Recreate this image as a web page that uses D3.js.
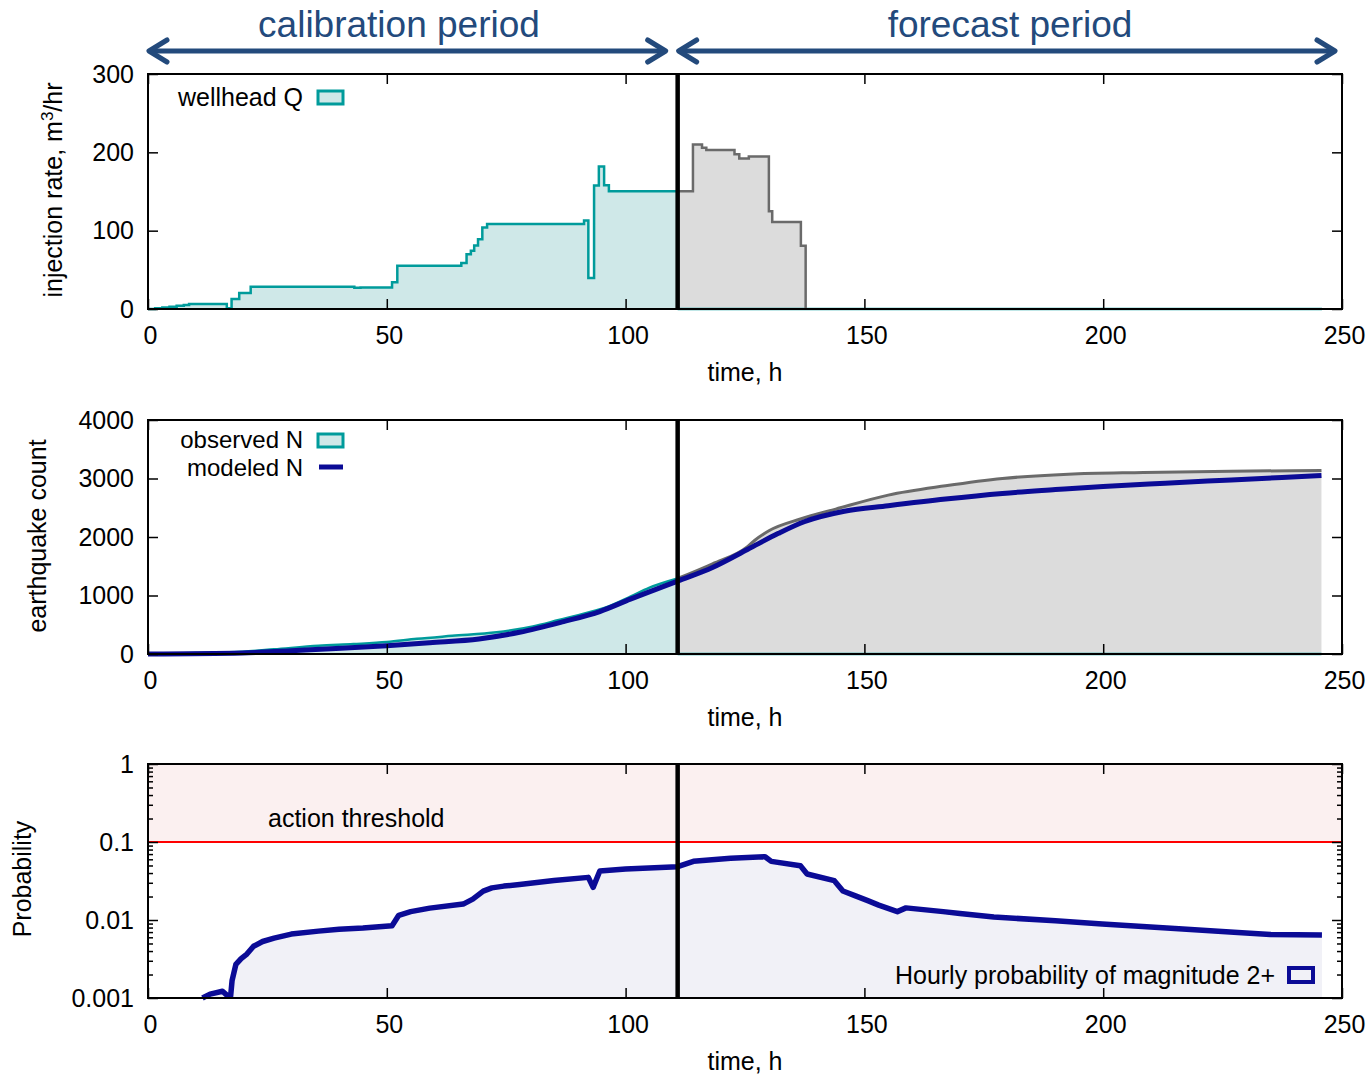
<!DOCTYPE html>
<html>
<head>
<meta charset="utf-8">
<script src="https://cdnjs.cloudflare.com/ajax/libs/d3/7.8.5/d3.min.js"></script>
<style>
  body { margin: 0; background: #fff; }
  text { font-family: "Liberation Sans", Arial, Helvetica, sans-serif; }
</style>
</head>
<body>
<div id="chart"></div>
<script>
// ---- data ----
var splitTime = 110.9;      // end of calibration period, h
var threshold = 0.1;        // action threshold

var xTicks = [0, 50, 100, 150, 200, 250];
var qTicks = [0, 100, 200, 300];
var nTicks = [0, 1000, 2000, 3000, 4000];
var pTicks = [0.001, 0.01, 0.1, 1];

// wellhead injection rate, calibration (step after)
var qTime = [0, 1.5, 3, 4.5, 6, 7.5, 8.6, 16.5, 17.5, 19.1, 21.5, 43.2, 44.5, 51.1, 52.2, 65.6, 66.7, 67.6, 68.3, 69.1, 70, 71, 91.3, 92.2, 93.4, 94.4, 95.5, 96.5, 110.9];
var qRate = [0, 1, 2, 3, 4, 5, 6.4, 1, 12.8, 20.4, 28.5, 27, 27.5, 34, 55.3, 58.7, 70, 74.5, 81, 89, 104, 108.5, 113, 39.6, 157.7, 182, 158, 150.4, 150.4];
// injection rate, forecast period
var qFcTime = [110.9, 114.1, 116, 116.9, 122.8, 123.8, 125.8, 130, 130.7, 136.7, 137.7, 245.8];
var qFcRate = [150.4, 210, 206, 203, 197.4, 192, 194.6, 124.8, 111, 80.8, 0, 0];

// observed earthquake count
var nObsTime = [0, 10, 19.8, 26.4, 35.7, 43, 50, 56.3, 63.7, 73, 80.6, 86, 91.8, 96, 101, 104.9, 110.9];
var nObsCount = [0, 18, 40, 80, 140, 170, 205, 260, 310, 370, 470, 580, 700, 800, 980, 1130, 1290];
var nFcTime = [110.9, 118.2, 125.6, 127, 130.1, 136.6, 144, 155, 167, 178.9, 192.7, 208.4, 226.8, 245.7];
var nFcCount = [1290, 1540, 1840, 1940, 2110, 2307, 2477, 2716, 2875, 3000, 3074, 3102, 3125, 3136];
// modeled earthquake count
var nModTime = [0, 19.8, 30, 40.4, 50, 59, 69.3, 77.8, 87, 94.6, 101, 111, 118.2, 125.6, 132, 137.4, 145.8, 155, 167, 178.9, 190, 200, 213, 226.8, 245.7];
var nModCount = [0, 17, 57, 97, 143, 194, 257, 371, 554, 726, 937, 1250, 1480, 1790, 2063, 2261, 2440, 2535, 2650, 2745, 2810, 2865, 2920, 2975, 3050];

// hourly probability of M2+
var pTime = [11.4, 13, 15.6, 16.8, 17.3, 17.6, 18.4, 19.5, 20.7, 22.1, 24, 26.4, 30, 35.7, 40, 45, 51.1, 52.5, 55, 59, 66, 68, 70.2, 72, 74.5, 77.8, 85, 92.2, 93.2, 94.6, 100, 110.9, 114.2, 122, 129.2, 130.5, 136.6, 138, 143.7, 145.5, 148, 150.7, 153, 156.9, 158.7, 166.5, 170, 177.1, 190, 199.8, 215, 228.2, 235, 245.8];
var pValue = [0.00100, 0.00112, 0.00122, 0.00105, 0.00105, 0.00167, 0.0027, 0.0032, 0.00366, 0.0046, 0.0053, 0.00585, 0.0066, 0.0072, 0.0076, 0.0079, 0.00845, 0.0115, 0.0128, 0.0142, 0.016, 0.0185, 0.0235, 0.0258, 0.0272, 0.0285, 0.032, 0.0352, 0.0262, 0.0425, 0.045, 0.0482, 0.0565, 0.062, 0.0648, 0.0564, 0.0497, 0.0389, 0.0319, 0.0235, 0.0205, 0.0177, 0.0155, 0.0128, 0.0143, 0.0128, 0.0121, 0.0109, 0.0098, 0.0089, 0.0078, 0.0069, 0.0065, 0.0064];

// ---- colours ----
var teal = '#009b9b', tealFill = '#cfe8e8';
var grey = '#6a6a6a', greyFill = '#dcdcdc';
var blue = '#0b0b96', lavender = '#f1f1f7';
var navy = '#234a7c';
var font = 25;

function zip(t, v) { return t.map((d, i) => [d, v[i]]); }

var svg = d3.select('#chart').append('svg')
    .attr('width', 1370)
    .attr('height', 1076);

var x = d3.scaleLinear().domain([0, 250]).range([148, 1342]);
var yQ = d3.scaleLinear().domain([0, 300]).range([309, 74]);
var yN = d3.scaleLinear().domain([0, 4000]).range([654, 420]);
var yP = d3.scaleLog().domain([0.001, 1]).range([998, 764]);

// axes + frame for one panel
function drawFrame(y, ticks, fmt, minor) {
    var top = y.range()[1], bottom = y.range()[0];
    var g = svg.append('g');
    var axes = [
        g.append('g').attr('transform', `translate(2,${bottom})`)
            .call(d3.axisBottom(x).tickValues(xTicks).tickSize(-10).tickPadding(17).tickSizeOuter(0)),
        g.append('g').attr('transform', `translate(0,${top})`)
            .call(d3.axisTop(x).tickValues(xTicks).tickSize(-10).tickFormat('').tickSizeOuter(0)),
        g.append('g').attr('transform', `translate(${x(0)},0)`)
            .call(d3.axisLeft(y).tickValues(ticks).tickFormat(fmt).tickSize(-10).tickPadding(14).tickSizeOuter(0)),
        g.append('g').attr('transform', `translate(${x(250)},0)`)
            .call(d3.axisRight(y).tickValues(ticks).tickFormat('').tickSize(-10).tickSizeOuter(0))
    ];
    if (minor) {
        axes.push(g.append('g').attr('transform', `translate(${x(0)},0)`)
            .call(d3.axisLeft(y).tickValues(minor).tickFormat('').tickSize(-5).tickSizeOuter(0)));
        axes.push(g.append('g').attr('transform', `translate(${x(250)},0)`)
            .call(d3.axisRight(y).tickValues(minor).tickFormat('').tickSize(-5).tickSizeOuter(0)));
    }
    axes.forEach(a => {
        a.select('.domain').remove();
        a.attr('font-size', font).attr('font-family', null);
        a.selectAll('line').attr('stroke', '#000').attr('stroke-width', 1.5);
        a.selectAll('text').attr('fill', '#000');
    });
    // bottom tick marks were shifted with the labels; put them back
    axes[0].selectAll('line').attr('x1', -2).attr('x2', -2);
    g.append('rect')
        .attr('x', x(0)).attr('y', top)
        .attr('width', x(250) - x(0)).attr('height', bottom - top)
        .attr('fill', 'none').attr('stroke', '#000').attr('stroke-width', 2);
    g.append('text')
        .attr('x', x(125)).attr('y', bottom + 72)
        .attr('text-anchor', 'middle').attr('font-size', font)
        .text('time, h');
}

function splitLine(y) {
    svg.append('line')
        .attr('x1', x(splitTime)).attr('x2', x(splitTime))
        .attr('y1', y.range()[1]).attr('y2', y.range()[0])
        .attr('stroke', '#000').attr('stroke-width', 4.5);
}

function yTitle(xPos, yPos, txt, sup, rest) {
    var t = svg.append('text')
        .attr('transform', `translate(${xPos},${yPos}) rotate(-90)`)
        .attr('text-anchor', 'middle').attr('font-size', font)
        .text(txt);
    if (sup) {
        t.append('tspan').attr('dy', -9).attr('font-size', 17).text(sup);
        t.append('tspan').attr('dy', 9).text(rest);
    }
}

// ---- header arrows ----
function arrow(x1, x2, yy) {
    var g = svg.append('g').attr('stroke', navy).attr('fill', 'none')
        .attr('stroke-width', 5).attr('stroke-linecap', 'round').attr('stroke-linejoin', 'round');
    g.append('line').attr('x1', x1 + 2).attr('x2', x2 - 2).attr('y1', yy).attr('y2', yy);
    g.append('path').attr('d', `M${x1 + 18},${yy - 11}L${x1},${yy}L${x1 + 18},${yy + 11}`);
    g.append('path').attr('d', `M${x2 - 18},${yy - 11}L${x2},${yy}L${x2 - 18},${yy + 11}`);
}
arrow(x(0) + 1, x(splitTime) - 12, 51);
arrow(x(splitTime) + 1, x(250) - 7, 51);
svg.append('text').attr('x', 399).attr('y', 37).attr('text-anchor', 'middle')
    .attr('font-size', 37).attr('fill', navy).text('calibration period');
svg.append('text').attr('x', 1010).attr('y', 37).attr('text-anchor', 'middle')
    .attr('font-size', 37).attr('fill', navy).text('forecast period');

// ---- panel 1: injection rate ----
var qData = zip(qTime, qRate);
var qFc = zip(qFcTime, qFcRate);
var qArea = d3.area().x(d => x(d[0])).y0(yQ(0)).y1(d => yQ(d[1])).curve(d3.curveStepAfter);
var qLine = d3.line().x(d => x(d[0])).y(d => yQ(d[1])).curve(d3.curveStepAfter);

svg.append('path').attr('d', qArea(qData)).attr('fill', tealFill);
svg.append('path').attr('d', qArea(qFc)).attr('fill', greyFill);
svg.append('line').attr('x1', x(splitTime)).attr('x2', x(qFcTime[qFcTime.length - 1]))
    .attr('y1', yQ(0)).attr('y2', yQ(0)).attr('stroke', teal).attr('stroke-width', 2.5);
svg.append('path').attr('d', qLine(qFc.slice(0, -1))).attr('fill', 'none')
    .attr('stroke', grey).attr('stroke-width', 2.5);
svg.append('path').attr('d', qLine(qData)).attr('fill', 'none')
    .attr('stroke', teal).attr('stroke-width', 2.5);
splitLine(yQ);
drawFrame(yQ, qTicks, d3.format('d'));
yTitle(62, 190, 'injection rate, m', '3', '/hr');

svg.append('text').attr('x', 303).attr('y', 106).attr('text-anchor', 'end')
    .attr('font-size', font).text('wellhead Q');
svg.append('rect').attr('x', 318).attr('y', 91).attr('width', 25).attr('height', 13)
    .attr('fill', tealFill).attr('stroke', teal).attr('stroke-width', 3);

// ---- panel 2: earthquake count ----
var nObs = zip(nObsTime, nObsCount);
var nFc = zip(nFcTime, nFcCount);
var nMod = zip(nModTime, nModCount);
var nArea = d3.area().x(d => x(d[0])).y0(yN(0)).y1(d => yN(d[1])).curve(d3.curveMonotoneX);
var nLine = d3.line().x(d => x(d[0])).y(d => yN(d[1])).curve(d3.curveMonotoneX);

svg.append('path').attr('d', nArea(nObs)).attr('fill', tealFill);
svg.append('path').attr('d', nArea(nFc)).attr('fill', greyFill);
svg.append('line').attr('x1', x(splitTime)).attr('x2', x(nFcTime[nFcTime.length - 1]))
    .attr('y1', yN(0)).attr('y2', yN(0)).attr('stroke', teal).attr('stroke-width', 2.5);
svg.append('path').attr('d', nLine(nFc)).attr('fill', 'none')
    .attr('stroke', grey).attr('stroke-width', 3);
svg.append('path').attr('d', nLine(nObs)).attr('fill', 'none')
    .attr('stroke', teal).attr('stroke-width', 2.5);
svg.append('path').attr('d', nLine(nMod)).attr('fill', 'none')
    .attr('stroke', blue).attr('stroke-width', 5);
splitLine(yN);
drawFrame(yN, nTicks, d3.format('d'));
yTitle(46, 536, 'earthquake count');

// legend lines sit close together, a slightly smaller font keeps them apart
svg.append('text').attr('x', 303).attr('y', 448).attr('text-anchor', 'end')
    .attr('font-size', 24).text('observed N');
svg.append('rect').attr('x', 318).attr('y', 434).attr('width', 25).attr('height', 13)
    .attr('fill', tealFill).attr('stroke', teal).attr('stroke-width', 3);
svg.append('text').attr('x', 303).attr('y', 476).attr('text-anchor', 'end')
    .attr('font-size', 24).text('modeled N');
svg.append('line').attr('x1', 319).attr('x2', 343).attr('y1', 467).attr('y2', 467)
    .attr('stroke', blue).attr('stroke-width', 5);

// ---- panel 3: probability ----
var minorP = [];
[0.001, 0.01, 0.1].forEach(d => { for (var k = 2; k < 10; k++) minorP.push(d * k); });

svg.append('rect')
    .attr('x', x(0)).attr('y', yP(1))
    .attr('width', x(250) - x(0)).attr('height', yP(threshold) - yP(1))
    .attr('fill', '#fbf0f0');
var pData = zip(pTime, pValue);
svg.append('path')
    .attr('d', d3.area().x(d => x(d[0])).y0(yP(0.001)).y1(d => yP(d[1]))(pData))
    .attr('fill', lavender);
svg.append('line').attr('x1', x(0)).attr('x2', x(250))
    .attr('y1', yP(threshold)).attr('y2', yP(threshold))
    .attr('stroke', '#ff0000').attr('stroke-width', 2);
svg.append('path')
    .attr('d', d3.line().x(d => x(d[0])).y(d => yP(d[1]))(pData))
    .attr('fill', 'none').attr('stroke', blue).attr('stroke-width', 5.5)
    .attr('stroke-linejoin', 'round');
splitLine(yP);
drawFrame(yP, pTicks, d3.format(''), minorP);
yTitle(31, 879, 'Probability');

svg.append('text').attr('x', 268).attr('y', 827).attr('font-size', font).text('action threshold');
svg.append('text').attr('x', 1275).attr('y', 984).attr('text-anchor', 'end')
    .attr('font-size', font).text('Hourly probability of magnitude 2+');
svg.append('rect').attr('x', 1289).attr('y', 968).attr('width', 24).attr('height', 14)
    .attr('fill', lavender).attr('stroke', blue).attr('stroke-width', 4);
</script>
</body>
</html>
